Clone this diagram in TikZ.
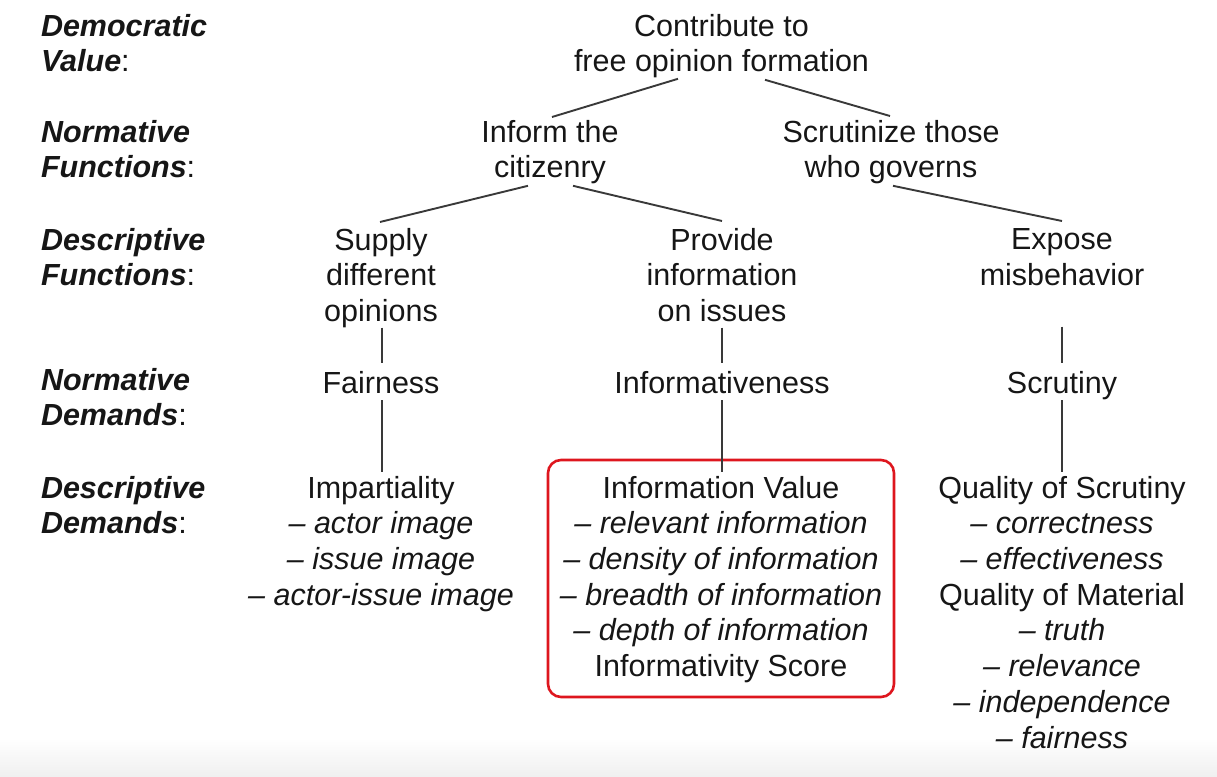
\documentclass[tikz,border=0pt]{standalone}
\usepackage{fontspec}
\setmainfont{Liberation Sans}
\usetikzlibrary{calc}
\definecolor{boxred}{RGB}{222,22,30}
\definecolor{ink}{RGB}{22,22,22}
\newcommand\tstrut{\rule[-10.7pt]{0pt}{35.7pt}}
\begin{document}
\begin{tikzpicture}[x=1pt,y=-1pt,
  txt/.style={inner sep=0pt, outer sep=0pt, align=center, anchor=north,
    font=\fontsize{30.5}{35.7}\selectfont, text=ink,
    execute at begin node=\tstrut, execute at end node=\tstrut},
  lab/.style={txt, align=left, anchor=north west},
  conn/.style={draw=ink!85, line width=1.9pt},
  redbox/.style={draw=boxred, line width=2.6pt, rounded corners=13pt,
    minimum width=346pt, minimum height=237pt, inner sep=0pt}]
\useasboundingbox (0,0) rectangle (1217,776);
\shade[top color=white, bottom color=gray!12] (0,738) rectangle (1217,776);

% row labels
\node[lab] (l1) at (41,14)  {\textbf{\textit{Democratic}}\\\textbf{\textit{Value}}:};
\node[lab] (l2) at (41,120) {\textbf{\textit{Normative}}\\\textbf{\textit{Functions}}:};
\node[lab] (l3) at (41,228) {\textbf{\textit{Descriptive}}\\\textbf{\textit{Functions}}:};
\node[lab] (l4) at (41,368) {\textbf{\textit{Normative}}\\\textbf{\textit{Demands}}:};
\node[lab] (l5) at (41,476) {\textbf{\textit{Descriptive}}\\\textbf{\textit{Demands}}:};

% tree
\node[txt] (root)    at (721.5,14) {Contribute to\\free opinion formation};
\node[txt] (inform)  at (550,120)  {Inform the\\citizenry};
\node[txt] (scrut)   at (891,120)  {Scrutinize those\\who governs};
\node[txt] (supply)  at (381,228)  {Supply\\different\\opinions};
\node[txt] (provide) at (722,228)  {Provide\\information\\on issues};
\node[txt] (expose)  at (1062,229) {Expose\\misbehavior};
\node[txt] (fair)    at (381,368)  {Fairness};
\node[txt] (infness) at (722,368)  {Informativeness};
\node[txt] (scrutiny) at (1062,368) {Scrutiny};
\node[txt] (impart)  at (381,476)  {Impartiality\\\textit{– actor image}\\\textit{– issue image}\\\textit{– actor-issue image}};
\node[txt] (infval)  at (721,476)  {Information Value\\\textit{– relevant information}\\\textit{– density of information}\\\textit{– breadth of information}\\\textit{– depth of information}\\Informativity Score};
\node[redbox] (infbox) at (721,578.5) {};
\node[txt] (quality) at (1062,476) {Quality of Scrutiny\\\textit{– correctness}\\\textit{– effectiveness}\\Quality of Material\\\textit{– truth}\\\textit{– relevance}\\\textit{– independence}\\\textit{– fairness}};

% connectors
\draw[conn] ($(root.south)+(-43.5,-3.7)$) -- ($(inform.north)+(2,-3)$);
\draw[conn] ($(root.south)+(43.5,-2.7)$) -- ($(scrut.north)+(-1,-4)$);
\draw[conn] ($(inform.south)+(-22,-2.7)$) -- ($(supply.north)+(-1,-6)$);
\draw[conn] ($(inform.south)+(23,-2.7)$) -- ($(provide.north)+(0,-7)$);
\draw[conn] ($(scrut.south)+(2,-2.7)$) -- ($(expose.north)+(0,-8)$);
\draw[conn] ($(supply.south)+(1,-4.7)$) -- ($(fair.north)+(1,-5)$);
\draw[conn] ($(fair.south)+(1,-3.7)$) -- ($(impart.north)+(1,-4)$);
\draw[conn] ($(provide.south)+(0,-4.7)$) -- ($(infness.north)+(0,-5)$);
\draw[conn] ($(infness.south)+(0,-3.7)$) -- ($(infval.north)+(1,-4)$);
\draw[conn] ($(expose.south)+(0,30.3)$) -- ($(scrutiny.north)+(0,-5)$);
\draw[conn] ($(scrutiny.south)+(0,-3.7)$) -- ($(quality.north)+(0,-4)$);
\end{tikzpicture}
\end{document}
